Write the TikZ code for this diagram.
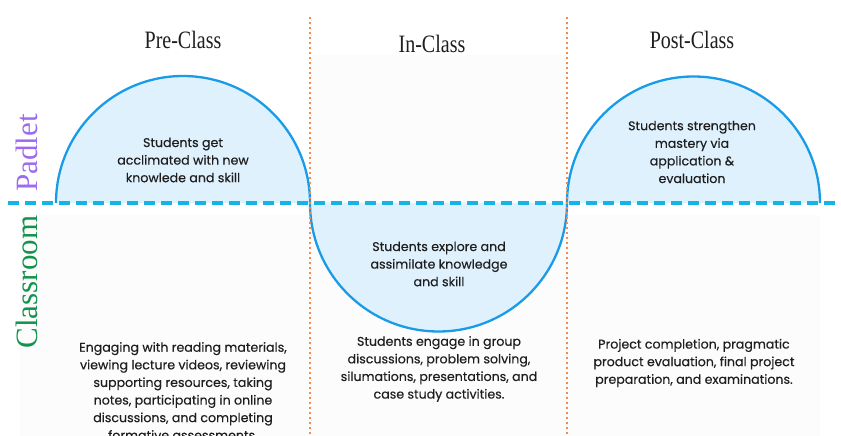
\documentclass[tikz,border=0pt]{standalone}
\usepackage{fontspec}
\setmainfont{Liberation Serif}
\newfontfamily\poppins[FakeBold=0.35]{Poppins}
\usetikzlibrary{positioning}

\definecolor{arcblue}{HTML}{1A9BE8}
\definecolor{arcfill}{HTML}{DFF1FD}
\definecolor{splitcyan}{HTML}{14B4E6}
\definecolor{cutorange}{HTML}{F7894A}
\definecolor{padletpurple}{HTML}{9C6BF2}
\definecolor{roomgreen}{HTML}{12934B}
\definecolor{ink}{HTML}{1E1E1E}

\begin{document}
\begin{tikzpicture}[
        x=1pt, y=1pt,
        every node/.style={align=center, text=ink, inner sep=0pt},
        phase/.style={font=\fontsize{25}{30}\selectfont, xscale=0.8, transform shape},
        side/.style={font=\fontsize{31}{36}\selectfont, rotate=90},
        body/.style={font=\poppins\fontsize{12.6}{17.6}\selectfont},
        halfdisc/.style={draw=arcblue, fill=arcfill, line width=2.3pt},
        splitline/.style={draw=splitcyan, line width=3.5pt, dash pattern=on 11pt off 6pt},
        cutline/.style={draw=cutorange, line width=2.6pt, dash pattern=on 2.5pt off 2.5pt},
        panel/.style={fill=black!1.2}
    ]
    \useasboundingbox (0,0) rectangle (841,436);

    % faint column panels
    \fill[panel] (20,0) rectangle (310,221);
    \fill[panel] (310,0) rectangle (567,381);
    \fill[panel] (567,0) rectangle (820,221);

    % half discs: two above the line, one below
    \filldraw[halfdisc] (56,233) arc[start angle=180, end angle=0, radius=127];
    \filldraw[halfdisc] (310,233) arc[start angle=180, end angle=360, radius=128.5];
    \filldraw[halfdisc] (567,233) arc[start angle=180, end angle=0, radius=126.5];

    % Padlet / Classroom split
    \coordinate (splitL) at (8,233);
    \coordinate (splitR) at (841,233);
    \draw[splitline] (splitL) -- (splitR);

    % column cuts
    \coordinate (cutA top) at (310,419);
    \coordinate (cutA bot) at (310,0);
    \coordinate (cutB top) at (567,419);
    \coordinate (cutB bot) at (567,0);
    \draw[cutline] (cutA top) -- (cutA bot);
    \draw[cutline] (cutB top) -- (cutB bot);

    % column heads
    \node[phase] (pre)  at (183,396) {Pre-Class};
    \node[phase] (in)   at (432,392) {In-Class};
    \node[phase] (post) at (692,396) {Post-Class};

    % row labels
    \node[side, text=padletpurple] (padlet) at (27,283) {Padlet};
    \node[side, text=roomgreen] (classroom) at (27,154) {Classroom};

    % text inside the half discs
    \node[body] (preGoal)  at (183,276) {Students get\\acclimated with new\\knowlede and skill};
    \node[body] (inGoal)   at (439,172) {Students explore and\\assimilate knowledge\\and skill};
    \node[body] (postGoal) at (692,284) {Students strengthen\\mastery via\\application \&\\evaluation};

    % activities below
    \node[body] (preWork)  at (183,45) {Engaging with reading materials,\\viewing lecture videos, reviewing\\supporting resources, taking\\notes, participating in online\\discussions, and completing\\formative assessments.};
    \node[body] (inWork)   at (439,67) {Students engage in group\\discussions, problem solving,\\silumations, presentations, and\\case study activities.};
    \node[body] (postWork) at (694,73) {Project completion, pragmatic\\product evaluation, final project\\preparation, and examinations.};

\end{tikzpicture}
\end{document}
